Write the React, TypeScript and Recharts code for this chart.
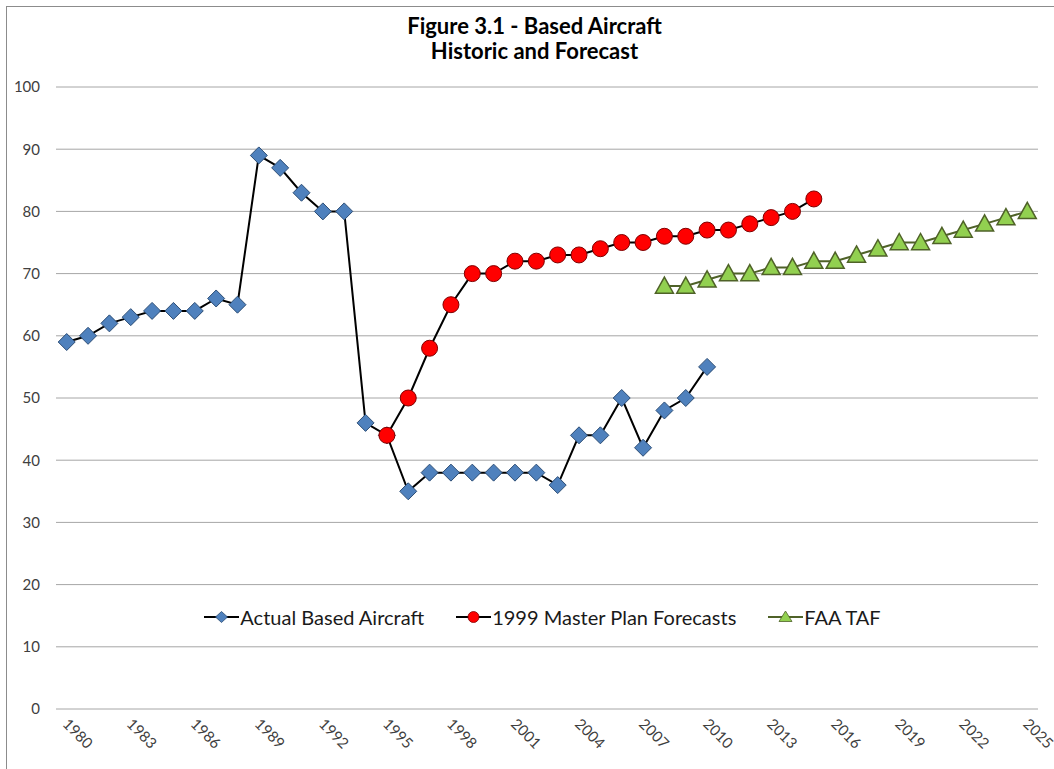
import React from 'react';
import { LineChart, Line, XAxis, YAxis, CartesianGrid } from 'recharts';

const years = [
  1980, 1981, 1982, 1983, 1984, 1985, 1986, 1987, 1988, 1989,
  1990, 1991, 1992, 1993, 1994, 1995, 1996, 1997, 1998, 1999,
  2000, 2001, 2002, 2003, 2004, 2005, 2006, 2007, 2008, 2009,
  2010, 2011, 2012, 2013, 2014, 2015, 2016, 2017, 2018, 2019,
  2020, 2021, 2022, 2023, 2024, 2025,
];

// 1980 - 2010
const actualStart = 1980;
const actual = [59, 60, 62, 63, 64, 64, 64, 66, 65, 89, 87, 83, 80, 80, 46, 44, 35, 38, 38, 38, 38, 38, 38, 36, 44, 44, 50, 42, 48, 50, 55];

// 1995 - 2015
const masterStart = 1995;
const masterPlan = [44, 50, 58, 65, 70, 70, 72, 72, 73, 73, 74, 75, 75, 76, 76, 77, 77, 78, 79, 80, 82];

// 2008 - 2025
const tafStart = 2008;
const faaTaf = [68, 68, 69, 70, 70, 71, 71, 72, 72, 73, 74, 75, 75, 76, 77, 78, 79, 80];

const yTicks = [0, 10, 20, 30, 40, 50, 60, 70, 80, 90, 100];

const seriesNames = ['Actual Based Aircraft', '1999 Master Plan Forecasts', 'FAA TAF'];

const data = years.map((y) => {
  const a = y - actualStart;
  const m = y - masterStart;
  const t = y - tafStart;
  return {
    year: String(y),
    actual: a >= 0 && a < actual.length ? actual[a] : null,
    master: m >= 0 && m < masterPlan.length ? masterPlan[m] : null,
    taf: t >= 0 && t < faaTaf.length ? faaTaf[t] : null,
  };
});

const FONT = 'Lato, "Open Sans", sans-serif';
const BLUE = '#4F81BD';
const BLUE_DARK = '#2C4D75';
const RED = '#FF0000';
const RED_DARK = '#7F0000';
const GREEN = '#92D050';
const GREEN_DARK = '#4F6228';

const Diamond = (props: any) => {
  const { cx, cy, value, index } = props;
  const r = 8.5;
  if (value == null || cx == null || cy == null) return <g key={`d${index}`} />;
  return (
    <polygon
      key={`d${index}`}
      points={`${cx},${cy - r} ${cx + r},${cy} ${cx},${cy + r} ${cx - r},${cy}`}
      fill={BLUE}
      stroke={BLUE_DARK}
      strokeWidth={1}
    />
  );
};

const Circle = (props: any) => {
  const { cx, cy, value, index } = props;
  if (value == null || cx == null || cy == null) return <g key={`c${index}`} />;
  return <circle key={`c${index}`} cx={cx} cy={cy} r={8} fill={RED} stroke={RED_DARK} strokeWidth={1} />;
};

const Triangle = (props: any) => {
  const { cx, cy, value, index } = props;
  const r = 9;
  if (value == null || cx == null || cy == null) return <g key={`t${index}`} />;
  return (
    <polygon
      key={`t${index}`}
      points={`${cx},${cy - r} ${cx + r},${cy + r * 0.8} ${cx - r},${cy + r * 0.8}`}
      fill={GREEN}
      stroke={GREEN_DARK}
      strokeWidth={1.5}
    />
  );
};

const XTick = (props: any) => {
  const { x, y, payload } = props;
  return (
    <g transform={`translate(${x + 3},${y}) rotate(45)`}>
      <text x={0} y={0} dy="0.75em" textAnchor="start" fontSize={15} fill="#404040" fontFamily={FONT}>
        {payload.value}
      </text>
    </g>
  );
};

const LegendIcon = ({ kind }: { kind: number }) => {
  const w = 35;
  const h = 14;
  const cx = w / 2;
  const cy = h / 2;
  let marker: React.ReactNode = null;
  let lineColor = '#000';
  if (kind === 0) {
    marker = <polygon points={`${cx},${cy - 5.5} ${cx + 6},${cy} ${cx},${cy + 5.5} ${cx - 6},${cy}`} fill={BLUE} stroke={BLUE_DARK} strokeWidth={0.8} />;
  } else if (kind === 1) {
    marker = <circle cx={cx} cy={cy} r={5.5} fill={RED} stroke={RED_DARK} strokeWidth={0.8} />;
  } else {
    lineColor = GREEN_DARK;
    marker = <polygon points={`${cx},${cy - 6} ${cx + 6.5},${cy + 4.5} ${cx - 6.5},${cy + 4.5}`} fill={GREEN} stroke={GREEN_DARK} strokeWidth={0.8} />;
  }
  return (
    <svg width={w} height={h} style={{ display: 'block' }}>
      <line x1={0} y1={cy} x2={w} y2={cy} stroke={lineColor} strokeWidth={2} />
      {marker}
    </svg>
  );
};

export default function App() {
  return (
    <div style={{ position: 'absolute', left: 0, top: 0, width: 1054, height: 769, overflow: 'hidden', background: '#fff' }}>
      <div style={{ position: 'absolute', left: 6, top: 6, width: 1100, height: 800, border: '1px solid #8c8c8c' }} />
      <div style={{ position: 'absolute', left: 0, top: 13, width: 1069, textAlign: 'center', fontFamily: FONT, fontWeight: 700, fontSize: 22, lineHeight: '25px', color: '#000' }}>
        Figure 3.1 - Based Aircraft
        <br />
        Historic and Forecast
      </div>
      <div style={{ position: 'absolute', left: 0, top: 0 }}>
        <LineChart width={1054} height={769} data={data} margin={{ top: 87, right: 16, bottom: 10, left: 0 }}>
          <CartesianGrid vertical={false} stroke="#a6a6a6" strokeWidth={1} />
          <XAxis
            dataKey="year"
            type="category"
            interval={2}
            tickLine={false}
            axisLine={false}
            height={50}
            padding={{ left: 10.7, right: 10.7 }}
            tick={<XTick />}
          />
          <YAxis
            domain={[0, 100]}
            ticks={yTicks}
            width={56}
            axisLine={false}
            tickLine={false}
            tickSize={0}
            tickMargin={16}
            tick={{ fontSize: 15, fill: '#404040', fontFamily: FONT }}
          />
          <Line
            dataKey="actual"
            name={seriesNames[0]}
            stroke="#000"
            strokeWidth={2}
            dot={<Diamond />}
            isAnimationActive={false}
            connectNulls={false}
          />
          <Line
            dataKey="master"
            name={seriesNames[1]}
            stroke="#000"
            strokeWidth={2}
            dot={<Circle />}
            isAnimationActive={false}
            connectNulls={false}
          />
          <Line
            dataKey="taf"
            name={seriesNames[2]}
            stroke={GREEN_DARK}
            strokeWidth={2}
            dot={<Triangle />}
            isAnimationActive={false}
            connectNulls={false}
          />
        </LineChart>
      </div>
      <div style={{ position: 'absolute', left: 0, top: 604, width: 1085, height: 26, display: 'flex', justifyContent: 'center', alignItems: 'center', gap: 32, fontFamily: FONT, fontSize: 20, color: '#1a1a1a' }}>
        {seriesNames.map((n, i) => (
          <div key={n} style={{ display: 'flex', alignItems: 'center' }}>
            <LegendIcon kind={i} />
            <span style={{ marginLeft: 1, whiteSpace: 'nowrap' }}>{n}</span>
          </div>
        ))}
      </div>
    </div>
  );
}
